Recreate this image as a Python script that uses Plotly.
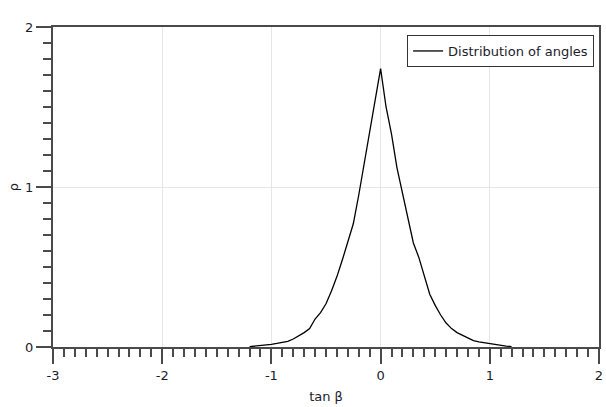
import plotly.graph_objects as go

# Data
tan_beta = [-1.20, -1.15, -1.10, -1.05, -1.00, -0.95, -0.90, -0.85, -0.80, -0.75,
            -0.70, -0.65, -0.60, -0.55, -0.50, -0.45, -0.40, -0.35, -0.30, -0.25,
            -0.20, -0.15, -0.10, -0.05, 0.00, 0.05, 0.10, 0.15, 0.20, 0.25,
            0.30, 0.35, 0.40, 0.45, 0.50, 0.55, 0.60, 0.65, 0.70, 0.75,
            0.80, 0.85, 0.90, 0.95, 1.00, 1.05, 1.10, 1.15, 1.20]
rho = [0.002, 0.005, 0.008, 0.012, 0.017, 0.022, 0.028, 0.035, 0.050, 0.068,
       0.090, 0.115, 0.175, 0.215, 0.270, 0.350, 0.440, 0.545, 0.650, 0.770,
       0.950, 1.150, 1.350, 1.550, 1.740, 1.500, 1.330, 1.120, 0.960, 0.790,
       0.650, 0.560, 0.450, 0.330, 0.260, 0.200, 0.150, 0.115, 0.090, 0.075,
       0.055, 0.040, 0.032, 0.026, 0.021, 0.016, 0.010, 0.006, 0.002]
x_ticks = [-3, -2, -1, 0, 1, 2]
x_tick_labels = ["-3", "-2", "-1", "0", "1", "2"]
y_ticks = [0, 1, 2]
y_tick_labels = ["0", "1", "2"]
series_name = "Distribution of angles"
x_title = "tan β"
y_title = "ρ"

AX = "#4a4a4a"
FONT = "DejaVu Sans"
TXT = "#1c1c2c"

fig = go.Figure()
fig.add_trace(go.Scatter(x=tan_beta, y=rho, mode="lines", name=series_name,
                         line=dict(color="black", width=1.3)))

fig.update_layout(
    width=606, height=407,
    margin=dict(l=53, r=3, t=27, b=60),
    paper_bgcolor="white", plot_bgcolor="white",
    font=dict(family=FONT, size=13, color=TXT),
    showlegend=True,
    legend=dict(x=0.991, y=0.975, xanchor="right", yanchor="top",
                bordercolor="#333333", borderwidth=1, bgcolor="white",
                font=dict(family=FONT, size=13, color=TXT),
                itemwidth=30, tracegroupgap=0),
)
fig.update_xaxes(
    range=[-3, 2], tickmode="array", tickvals=x_ticks, ticktext=x_tick_labels,
    showline=True, linecolor=AX, linewidth=2, mirror=True,
    ticks="outside", ticklen=15, tickwidth=2, tickcolor=AX,
    tickfont=dict(size=13),
    minor=dict(tickmode="linear", dtick=0.1, tick0=-3, ticks="outside", ticklen=8,
               tickwidth=2, tickcolor=AX, showgrid=False),
    showgrid=True, gridcolor="#e6e6e6", gridwidth=1, zeroline=False,
    title=dict(text=x_title, standoff=10, font=dict(size=13)),
)
fig.update_yaxes(
    range=[0, 2], tickmode="array", tickvals=y_ticks, ticktext=y_tick_labels,
    showline=True, linecolor=AX, linewidth=2, mirror=True,
    ticks="outside", ticklen=15, tickwidth=2, tickcolor=AX,
    tickfont=dict(size=13),
    minor=dict(tickmode="linear", dtick=0.1, tick0=0, ticks="outside", ticklen=8,
               tickwidth=2, tickcolor=AX, showgrid=False),
    showgrid=True, gridcolor="#e6e6e6", gridwidth=1, zeroline=False,
    title=dict(text=y_title, standoff=4, font=dict(size=13)),
)

fig.write_html("out.html")
